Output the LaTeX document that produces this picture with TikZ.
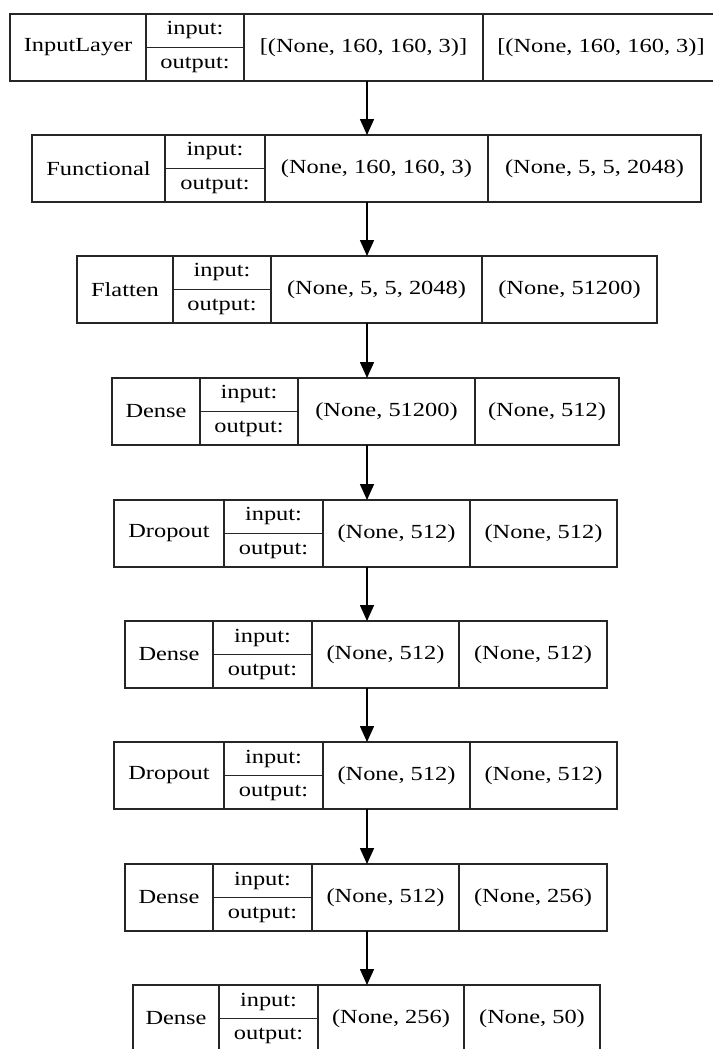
\documentclass[tikz,border=0pt]{standalone}
\usepackage{graphicx}
\usepackage{fontspec}
\setmainfont{Liberation Serif}
\usetikzlibrary{arrows.meta}
\newcommand{\sx}[1]{\scalebox{1.22}[1]{#1}}
\newcommand{\layer}[9]{%
  \node[cell, anchor=north west, minimum width={(#7)-(#3)}, minimum height=67] (#1) at (#3,#2) {};
  \draw[cell] (#4,#2) -- ++(0,67) (#5,#2) -- ++(0,67) (#6,#2) -- ++(0,67) (#4,#2+33.5) -- (#5,#2+33.5);
  \node[lbl] (#1-name) at ({(#3+#4)/2},#2+33.5) {\sx{#8}};
  \node[lbl] (#1-in) at ({(#4+#5)/2},#2+16.5) {\sx{input:}};
  \node[lbl] (#1-out) at ({(#4+#5)/2},#2+50.5) {\sx{output:}};
  \node[lbl] (#1-iv) at ({(#5+#6)/2},#2+33.5) {\sx{#9}};
  \xdef\lastx{#6}\xdef\lasty{#2}\xdef\lastr{#7}}
\newcommand{\outv}[2]{\node[lbl] (#1-ov) at ({(\lastx+\lastr)/2},\lasty+33.5) {\sx{#2}};}
\begin{document}
\begin{tikzpicture}[x=1pt,y=-1pt,
  cell/.style={draw=black!85, line width=1.5pt, inner sep=0pt, outer sep=0pt},
  lbl/.style={font=\fontsize{20}{23}\selectfont, inner sep=0pt, text=black},
  conn/.style={draw=black, line width=1.6pt, -{Triangle[length=16pt,width=14pt]}}]
\useasboundingbox (0,0) rectangle (712,1049);
\coordinate (ax) at (367,0);
\layer{L1}{14}{10}{146}{244}{483}{719}{InputLayer}{[(None, 160, 160, 3)]}
\outv{L1}{[(None, 160, 160, 3)]}
\layer{L2}{135}{32}{165}{265}{488}{701}{Functional}{(None, 160, 160, 3)}
\outv{L2}{(None, 5, 5, 2048)}
\layer{L3}{256}{77}{173}{271}{482}{657}{Flatten}{(None, 5, 5, 2048)}
\outv{L3}{(None, 51200)}
\layer{L4}{378}{112}{200}{298}{475}{619}{Dense}{(None, 51200)}
\outv{L4}{(None, 512)}
\layer{L5}{500}{114}{224}{323}{470}{617}{Dropout}{(None, 512)}
\outv{L5}{(None, 512)}
\layer{L6}{621}{125}{213}{312}{459}{607}{Dense}{(None, 512)}
\outv{L6}{(None, 512)}
\layer{L7}{742}{114}{224}{323}{470}{617}{Dropout}{(None, 512)}
\outv{L7}{(None, 512)}
\layer{L8}{864}{125}{213}{312}{459}{607}{Dense}{(None, 512)}
\outv{L8}{(None, 256)}
\layer{L9}{985}{133}{219}{318}{464}{600}{Dense}{(None, 256)}
\outv{L9}{(None, 50)}
\foreach \a/\b in {L1/L2,L2/L3,L3/L4,L4/L5,L5/L6,L6/L7,L7/L8,L8/L9}
  \draw[conn] (ax |- \a.south) -- (ax |- \b.north);
\end{tikzpicture}
\end{document}
